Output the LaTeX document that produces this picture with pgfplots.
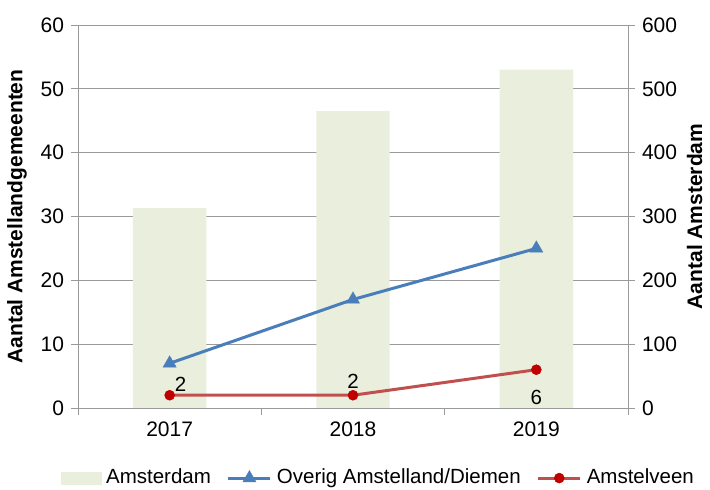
\documentclass[border=0pt]{standalone}
\usepackage{fontspec}
\setmainfont{Liberation Sans}
\usepackage{pgfplots}
\pgfplotsset{compat=1.18}
\definecolor{barGreen}{HTML}{E9EEDD}
\definecolor{lineBlue}{HTML}{4A7EBB}
\definecolor{lineRed}{HTML}{C0504D}
\definecolor{markRed}{HTML}{C00000}
\definecolor{axGray}{HTML}{9A9A9A}

\pgfplotstableread{
x y dx dy
0 2 11 11
1 2 0 14
2 6 0 -28
}\amstelveen

\begin{document}
\fontsize{20.5pt}{24pt}\selectfont
\begin{tikzpicture}
\useasboundingbox (-78pt,-82pt) rectangle (632pt,408pt);
\pgfplotsset{
  base/.style={
    scale only axis, width=550pt, height=383pt,
    xmin=-0.5, xmax=2.5, ymin=0,
    axis line style={axGray, line width=0.8pt, -},
    tick style={axGray, line width=0.8pt},
    tick align=outside, major tick length=7pt,
    /pgf/number format/assume math mode=true,
    tick label style={font=\fontsize{21pt}{24pt}\selectfont},
    label style={font=\bfseries\fontsize{21pt}{24pt}\selectfont},
  },
}
% Amsterdam bars, right axis
\begin{axis}[base,
  axis y line*=right, hide x axis,
  ymax=600, ytick={0,100,...,600},
  ymajorgrids, grid style={axGray, line width=0.8pt},
  ylabel={Aantal Amsterdam},
  ylabel style={yshift=4pt},
]
\addplot[ybar, fill=barGreen, draw=none, bar width=0.4] coordinates {(0,313) (1,465) (2,530)};
\end{axis}
% lines, left axis
\begin{axis}[base,
  axis y line*=left, axis x line*=bottom,
  ymax=60, ytick={0,10,...,60},
  xtick={0,1,2}, xticklabels={2017,2018,2019},
  x tick style={draw=none},
  extra x ticks={-0.5,0.5,1.5,2.5}, extra x tick labels={},
  extra x tick style={x tick style={draw=axGray, line width=0.8pt}},
  ylabel={Aantal Amstellandgemeenten},
  legend columns=3,
  legend style={at={(0.546,-0.183)}, anchor=center, draw=none, fill=none,
    font=\fontsize{20.5pt}{24pt}\selectfont,
    /tikz/every odd column/.append style={column sep=3pt},
    /tikz/every even column/.append style={column sep=14pt}},
]
\addlegendimage{legend image code/.code={\fill[barGreen] (0pt,-6pt) rectangle (40pt,6pt);}}
\addlegendentry{Amsterdam}
\addplot[lineBlue, line width=3pt, mark=triangle*, mark size=7.5pt,
  mark options={fill=lineBlue, line width=0.5pt},
  legend image code/.code={\draw[mark repeat=2, mark phase=2] plot coordinates {(0pt,0pt) (21pt,0pt) (42pt,0pt)};}]
  coordinates {(0,7) (1,17) (2,25)};
\addlegendentry{Overig Amstelland/Diemen}
\addplot[lineRed, line width=3pt, mark=*, mark size=5pt,
  mark options={fill=markRed, draw=markRed, line width=0.5pt},
  visualization depends on={\thisrow{dx} \as \dx},
  visualization depends on={\thisrow{dy} \as \dy},
  nodes near coords={\pgfmathprintnumber{\pgfplotspointmeta}},
  nodes near coords style={anchor=center, xshift=\dx pt, yshift=\dy pt, black, font=\fontsize{20.5pt}{24pt}\selectfont},
  point meta=explicit,
  legend image code/.code={\draw[mark repeat=2, mark phase=2] plot coordinates {(0pt,0pt) (21pt,0pt) (42pt,0pt)};}]
  table[x=x, y=y, meta=y] {\amstelveen};
\addlegendentry{Amstelveen}
\end{axis}
\end{tikzpicture}
\end{document}
